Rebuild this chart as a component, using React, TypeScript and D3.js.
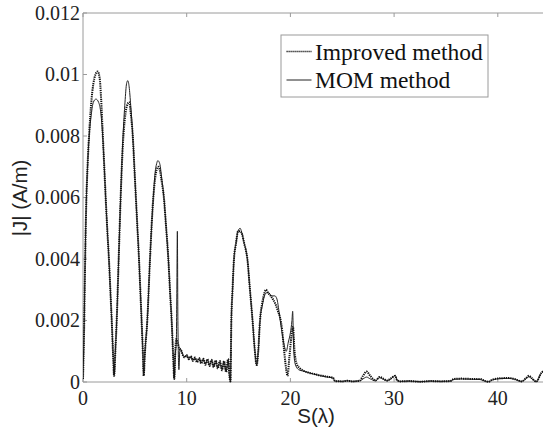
import React from "react";
import * as d3 from "d3";

const xTicks = [0, 10, 20, 30, 40];
const yTicks = [0, 0.002, 0.004, 0.006, 0.008, 0.01, 0.012];
const yTickLabels = ["0", "0.002", "0.004", "0.006", "0.008", "0.01", "0.012"];
const seriesNames = ["Improved method", "MOM method"];

// Improved method: [S (lambda), |J| (A/m)]
const improved: [number, number][] = [
  [0, 0.0001], [0.1, 0.0016], [0.2, 0.0038], [0.3, 0.0056], [0.45, 0.0071], [0.6, 0.0081],
  [0.8, 0.0091], [1.0, 0.0097], [1.2, 0.01], [1.4, 0.0101], [1.6, 0.0099], [1.75, 0.0092],
  [1.9, 0.0081], [2.05, 0.007], [2.2, 0.0059], [2.35, 0.0049], [2.5, 0.004], [2.65, 0.0029],
  [2.77, 0.002], [2.9, 0.0009], [3.0, 0.0002],
  [3.12, 0.001], [3.25, 0.002], [3.44, 0.004], [3.63, 0.006], [3.86, 0.0078], [4.05, 0.0086],
  [4.25, 0.009], [4.45, 0.0091], [4.65, 0.0086], [4.8, 0.008], [4.95, 0.007], [5.1, 0.006],
  [5.25, 0.005], [5.4, 0.004], [5.55, 0.0028], [5.65, 0.002], [5.78, 0.0009], [5.85, 0.0002],
  [5.98, 0.001], [6.2, 0.002], [6.46, 0.004], [6.78, 0.006], [6.95, 0.0066], [7.1, 0.0069],
  [7.25, 0.007], [7.4, 0.0069], [7.6, 0.0065], [7.8, 0.006], [8.0, 0.0051], [8.23, 0.004],
  [8.4, 0.0029], [8.55, 0.002], [8.7, 0.0008], [8.8, 0.0001],
  [8.9, 0.001], [9.0, 0.0014], [9.1, 0.0013], [9.3, 0.0011], [9.5, 0.001],
  [9.6, 0.0009], [9.8, 0.0008], [10.0, 0.00088], [10.2, 0.00074], [10.4, 0.00084], [10.6, 0.00068],
  [10.8, 0.0008], [11.0, 0.00064], [11.2, 0.00078], [11.4, 0.0006], [11.6, 0.00076], [11.8, 0.00056],
  [12.0, 0.00074], [12.2, 0.00052], [12.4, 0.00072], [12.6, 0.00048], [12.8, 0.0007], [13.0, 0.00044],
  [13.2, 0.00068], [13.4, 0.00038], [13.6, 0.00068], [13.8, 0.00032], [14.0, 0.00075], [14.12, 0.0002],
  [14.22, 0.00002], [14.3, 0.0019], [14.42, 0.003], [14.56, 0.004], [14.75, 0.0045], [14.95, 0.0049],
  [15.15, 0.0049], [15.35, 0.0048], [15.55, 0.0045], [15.7, 0.0043], [15.85, 0.004], [16.1, 0.003],
  [16.35, 0.002], [16.55, 0.0011], [16.75, 0.00055], [16.9, 0.001], [17.07, 0.002], [17.3, 0.0026],
  [17.5, 0.0029], [17.65, 0.003], [17.85, 0.0029], [18.1, 0.0028], [18.35, 0.00267], [18.6, 0.0025],
  [18.8, 0.0023], [19.0, 0.0021], [19.2, 0.0017], [19.4, 0.001], [19.6, 0.0004], [19.72, 0.0002],
  [19.9, 0.0008], [20.1, 0.0015], [20.25, 0.0018], [20.4, 0.001], [20.6, 0.0006], [20.9, 0.00045],
  [21.3, 0.00036], [21.8, 0.0003], [22.2, 0.00027], [22.8, 0.00022], [23.4, 0.00018], [24.1, 0.00014],
  [24.3, 0.00003], [25.0, 0.00002], [25.5, 0.00004], [26.0, 0.00002], [26.7, 0.00005], [27.0, 0.0002],
  [27.35, 0.00034], [27.7, 0.0002], [28.2, 0.00005], [28.6, 0.00016], [29.0, 0.0001], [29.3, 0.00005],
  [29.7, 0.00012], [30.1, 0.0002], [30.3, 0.00005], [30.6, 0.00002], [31.5, 0.00003], [32.5, 0.00001],
  [33.5, 0.00003], [34.5, 0.00002], [35.4, 0.00003], [35.8, 0.0001], [36.5, 0.00011], [37.5, 0.0001],
  [38.3, 0.0001], [38.7, 0.00004], [39.1, 0.00001], [39.5, 0.00008], [40.2, 0.00012], [41.0, 0.00013],
  [41.6, 0.0001], [42.3, 0.00002], [42.7, 0.00012], [43.0, 0.0002], [43.3, 0.00012], [43.7, 0.00001],
  [44.2, 0.0003], [44.6, 0.0004],
];

// MOM method: [S (lambda), |J| (A/m)]
const mom: [number, number][] = [
  [0, 0.0001], [0.1, 0.0016], [0.2, 0.0038], [0.3, 0.0056], [0.45, 0.0071], [0.6, 0.008],
  [0.8, 0.0087], [1.0, 0.0091], [1.25, 0.0092], [1.5, 0.0091], [1.7, 0.0088], [1.9, 0.008],
  [2.05, 0.007], [2.2, 0.0059], [2.35, 0.0049], [2.5, 0.004], [2.65, 0.0029], [2.77, 0.002],
  [2.9, 0.0009], [3.0, 0.0002],
  [3.12, 0.001], [3.25, 0.002], [3.44, 0.004], [3.63, 0.006], [3.86, 0.008], [4.05, 0.0091],
  [4.2, 0.0097], [4.32, 0.0098], [4.45, 0.0096], [4.6, 0.009], [4.8, 0.008], [4.95, 0.007],
  [5.1, 0.006], [5.25, 0.005], [5.4, 0.004], [5.55, 0.0028], [5.65, 0.002], [5.78, 0.0009],
  [5.85, 0.0002],
  [5.98, 0.001], [6.2, 0.002], [6.46, 0.004], [6.78, 0.006], [6.95, 0.0068], [7.1, 0.0071],
  [7.22, 0.0072], [7.4, 0.0071], [7.6, 0.0066], [7.8, 0.006], [8.0, 0.0051], [8.23, 0.004],
  [8.4, 0.0029], [8.55, 0.002], [8.7, 0.0008], [8.8, 0.0001],
  [8.9, 0.0009], [9.0, 0.0013], [9.05, 0.003], [9.1, 0.0049], [9.15, 0.002], [9.25, 0.0004],
  [9.35, 0.0011], [9.5, 0.001],
  [9.6, 0.0009], [9.8, 0.00082], [10.0, 0.00086], [10.2, 0.00075], [10.4, 0.00083], [10.6, 0.0007],
  [10.8, 0.00079], [11.0, 0.00066], [11.2, 0.00077], [11.4, 0.00062], [11.6, 0.00075], [11.8, 0.00058],
  [12.0, 0.00073], [12.2, 0.00054], [12.4, 0.00071], [12.6, 0.0005], [12.8, 0.00069], [13.0, 0.00046],
  [13.2, 0.00067], [13.4, 0.0004], [13.6, 0.00066], [13.8, 0.00034], [14.0, 0.00072], [14.12, 0.0002],
  [14.22, 0.00002], [14.3, 0.0019], [14.42, 0.003], [14.56, 0.004], [14.75, 0.0045], [14.95, 0.0049],
  [15.15, 0.005], [15.35, 0.0048], [15.55, 0.0045], [15.7, 0.0043], [15.85, 0.004], [16.1, 0.003],
  [16.35, 0.002], [16.55, 0.0011], [16.75, 0.00055], [16.9, 0.001], [17.07, 0.002], [17.3, 0.0025],
  [17.5, 0.0028], [17.7, 0.0029], [17.9, 0.0029], [18.2, 0.0028], [18.5, 0.0028], [18.7, 0.0027],
  [18.9, 0.0023], [19.15, 0.0017], [19.4, 0.0012], [19.6, 0.001], [19.8, 0.0013], [20.0, 0.0016],
  [20.15, 0.002], [20.22, 0.0023], [20.3, 0.0012], [20.45, 0.0006], [20.8, 0.0004],
  [21.3, 0.00035], [21.8, 0.0003], [22.2, 0.00026], [22.8, 0.00021], [23.4, 0.00017], [24.1, 0.00013],
  [24.3, 0.00003], [25.0, 0.00002], [25.5, 0.00004], [26.0, 0.00002], [26.7, 0.00004], [27.0, 0.0001],
  [27.35, 0.00016], [27.7, 0.0001], [28.2, 0.00004], [28.6, 0.00014], [29.0, 0.00008], [29.3, 0.00004],
  [29.7, 0.0001], [30.1, 0.00022], [30.3, 0.00005], [30.6, 0.00002], [31.5, 0.00003], [32.5, 0.00001],
  [33.5, 0.00003], [34.5, 0.00002], [35.4, 0.00003], [35.8, 0.00009], [36.5, 0.0001], [37.5, 0.00009],
  [38.3, 0.00008], [38.7, 0.00004], [39.1, 0.00001], [39.5, 0.00007], [40.2, 0.00011], [41.0, 0.00012],
  [41.6, 0.00009], [42.3, 0.00002], [42.7, 0.0001], [43.0, 0.00017], [43.3, 0.0001], [43.7, 0.00001],
  [44.2, 0.00028], [44.6, 0.0004],
];

const W = 543;
const H = 429;
const left = 83;
const top = 13;
const bottom = 382;

export default function App() {
  const x = d3.scaleLinear().domain([0, 50]).range([left, left + 518.5]);
  const y = d3.scaleLinear().domain([0, 0.012]).range([bottom, top]);
  const line = d3
    .line<[number, number]>()
    .x((d) => x(d[0]))
    .y((d) => y(d[1]))
    .curve(d3.curveMonotoneX);

  const serif = "'Liberation Serif', 'Times New Roman', serif";
  const sans = "'Liberation Sans', Arial, sans-serif";
  const axisColor = "#9a9a9a";

  return (
    <svg
      width={W}
      height={H}
      style={{ position: "absolute", left: 0, top: 0, background: "#fff" }}
    >
      <defs>
        <clipPath id="plot">
          <rect x={left} y={top - 2} width={W - left} height={bottom - top + 3} />
        </clipPath>
      </defs>
      <rect x={0} y={0} width={W} height={H} fill="#fff" />

      {/* axes */}
      <line x1={left} y1={top} x2={W} y2={top} stroke={axisColor} strokeWidth={1} />
      <line x1={left} y1={bottom} x2={W} y2={bottom} stroke={axisColor} strokeWidth={1} />
      <line x1={left} y1={top} x2={left} y2={bottom} stroke={axisColor} strokeWidth={1} />

      {xTicks.map((t) => (
        <g key={"xt" + t}>
          <line x1={x(t)} x2={x(t)} y1={bottom} y2={bottom - 4} stroke={axisColor} />
          <line x1={x(t)} x2={x(t)} y1={top} y2={top + 4} stroke={axisColor} />
          <text
            x={x(t)}
            y={405}
            textAnchor="middle"
            fontFamily={serif}
            fontSize={20}
            fill="#222"
          >
            {t}
          </text>
        </g>
      ))}

      {yTicks.map((t, i) => (
        <g key={"yt" + t}>
          <line x1={left} x2={left + 4} y1={y(t)} y2={y(t)} stroke={axisColor} />
          <text
            x={80}
            y={y(t)}
            dy="0.33em"
            textAnchor="end"
            fontFamily={serif}
            fontSize={20}
            fill="#222"
          >
            {yTickLabels[i]}
          </text>
        </g>
      ))}

      {/* curves */}
      <g clipPath="url(#plot)">
        <path d={line(mom) || ""} fill="none" stroke="#222" strokeWidth={1} />
        <path
          d={line(improved) || ""}
          fill="none"
          stroke="#111"
          strokeWidth={2}
          strokeDasharray="1.3,0.9"
        />
      </g>

      {/* axis titles */}
      <text
        x={316}
        y={423}
        textAnchor="middle"
        fontFamily={sans}
        fontSize={20.5}
        fill="#222"
      >
        S(λ)
      </text>
      <text
        transform="translate(27,198) rotate(-90)"
        textAnchor="middle"
        fontFamily={sans}
        fontSize={20.5}
        fill="#222"
      >
        |J| (A/m)
      </text>

      {/* legend */}
      <rect x={281} y={35} width={207} height={62} fill="#fff" stroke={axisColor} strokeWidth={1} />
      <line
        x1={286.5}
        x2={311.5}
        y1={51.5}
        y2={51.5}
        stroke="#111"
        strokeWidth={1.5}
        strokeDasharray="1.2,0.8"
      />
      <line x1={286.5} x2={311.5} y1={80} y2={80} stroke="#222" strokeWidth={1} />
      <text x={315} y={59.5} fontFamily={serif} fontSize={23.5} fill="#111">
        {seriesNames[0]}
      </text>
      <text x={315} y={88} fontFamily={serif} fontSize={23.5} fill="#111">
        {seriesNames[1]}
      </text>
    </svg>
  );
}
